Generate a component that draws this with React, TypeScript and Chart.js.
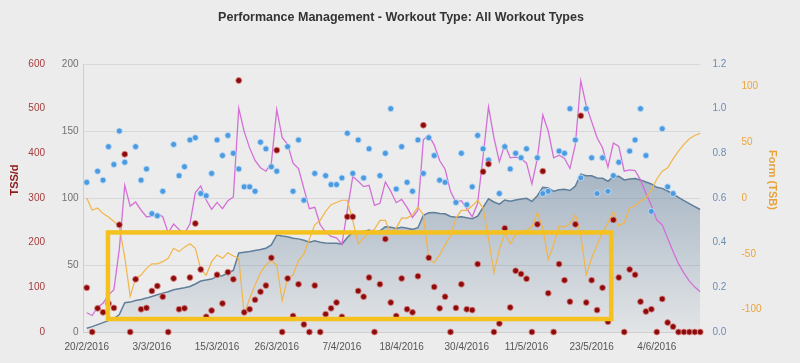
import { useEffect, useRef } from "react";
import { Chart, registerables } from "chart.js";

Chart.register(...registerables);

const FONT = "'Liberation Sans', Arial, sans-serif";

const chartTitle = "Performance Management - Workout Type: All Workout Types";

// Daily TSS (left outer axis, 0-600)
const tss = [
  99, 0, 53, 44, 64, 54, 240, 398, 0, 118,
  51, 54, 92, 103, 79, 0, 120, 51, 53, 122,
  243, 140, 34, 48, 128, 64, 134, 118, 563, 44,
  51, 72, 90, 104, 166, 407, 0, 120, 36, 107,
  17, 0, 104, 0, 40, 53, 66, 34, 258, 258,
  92, 79, 122, 0, 107, 208, 66, 36, 120, 51,
  44, 125, 463, 166, 101, 53, 79, 0, 54, 107,
  51, 49, 152, 359, 376, 0, 19, 232, 55, 137,
  130, 119, 0, 241, 360, 87, 0, 152, 116, 68,
  241, 484, 66, 116, 49, 99, 23, 251, 122, 0,
  140, 128, 68, 46, 51, 0, 74, 21, 12, 0,
  0, 0, 0, 0,
];

// Intensity factor (right inner axis, 0-1.2)
const intensity = [
  0.67, null, 0.72, 0.68, 0.83, 0.75, 0.9, 0.76, null, 0.83,
  0.68, 0.73, 0.53, 0.52, 0.63, null, 0.84, 0.7, 0.74, 0.86,
  0.87, 0.62, 0.61, 0.71, 0.86, 0.79, 0.88, 0.8, 0.73, 0.65,
  0.65, 0.63, 0.85, 0.82, 0.74, 0.72, null, 0.83, 0.63, 0.86,
  0.59, null, 0.71, null, 0.7, 0.66, 0.66, 0.69, 0.89, 0.71,
  0.86, 0.69, 0.82, null, 0.7, 0.8, 1.0, 0.64, 0.83, 0.67,
  0.63, 0.86, 0.71, 0.87, 0.79, 0.68, 0.67, null, 0.58, 0.8,
  0.57, 0.65, 0.88, 0.82, 0.77, null, 0.62, 0.83, 0.73, 0.8,
  0.78, 0.82, null, 0.78, 0.62, 0.63, null, 0.81, 0.8, 1.0,
  0.86, 0.69, 1.0, 0.78, 0.62, 0.78, 0.63, 0.7, 0.76, null,
  0.81, 0.86, 1.0, 0.79, 0.54, null, 0.91, 0.65, 0.62, null,
  null, null, null, null,
];

// Acute training load (0-200 axis)
const atl = [
  14.4, 12.3, 18.5, 21.5, 27.5, 31.5, 62, 109.5, 94, 97,
  91, 86, 86.3, 88.5, 86, 74, 80.5, 76.5, 73.5, 80.5,
  104, 109, 98.5, 91.5, 96.7, 92, 98, 100.8, 167, 149.5,
  137.4, 128, 122.6, 120, 126, 166, 145, 140, 126, 122,
  107, 92, 93, 80, 74.5, 71.3, 70.3, 65.5, 91, 116,
  112.5, 108.5, 109.5, 94.5, 96, 112, 105, 96.5, 99, 93,
  85.5, 91, 143.5, 147, 139.5, 128, 121.5, 105, 97, 98,
  92, 86, 96, 131, 168, 145, 127, 140, 130, 130.5,
  129.5, 126, 110.5, 129.5, 162, 150, 130, 132, 129.5, 122,
  140, 187.5, 169, 157, 145, 137.5, 123, 141, 138.5, 120,
  121, 120.5, 113.5, 103.5, 94.5, 83.5, 80, 70, 60, 51,
  44, 38, 33.5, 30,
];

// Chronic training load (0-200 axis, filled area)
const ctl = [
  2.8, 4, 5.5, 7, 8.5, 10, 13, 21.9, 22.3, 23.5,
  24.3, 25.3, 26.5, 27.8, 29, 30, 31.5, 32.3, 33, 34,
  35.8, 38, 38.8, 39.5, 41.5, 42, 44, 46, 59, 59.5,
  60, 60.8, 61.5, 62.5, 65, 72.4, 71.6, 71.1, 70, 69.5,
  68.5, 67, 68, 67, 66.5, 66.2, 66.2, 65.6, 70.5, 74.5,
  74.8, 75, 76.1, 74.5, 75.5, 78.5, 78.2, 77.2, 78.1, 77.4,
  76.6, 77.8, 87, 89, 89.2, 88.4, 88.2, 86.2, 85.6, 86,
  85.2, 84.5, 86.5, 93, 99.4, 97, 95.4, 98.5, 97.6, 98.5,
  99.3, 99.8, 97.5, 101.7, 108, 107.5, 105, 106.2, 106.5, 105.6,
  108.9, 117.8, 116.6, 116.6, 115, 114.7, 112.5, 116, 116.2, 113.5,
  114.2, 114.6, 113.5, 111.9, 110.5, 108, 107.2, 105.2, 103, 100.5,
  98.1, 95.8, 93.6, 91.4,
];

// Form / training stress balance (right outer axis)
const tsb = [
  0, -11, -9, -14, -17, -21, -26, -53, -88, -72,
  -69, -63, -59, -59, -57, -54, -45, -48, -44, -41,
  -45, -64, -69, -57, -51, -54, -49, -52, -54, -104,
  -90, -78, -67, -60, -56, -60, -92, -72, -69, -56,
  -50, -37, -24, -20, -12, -6, -4, -2, -2, -20,
  -41, -36, -31, -28, -20, -20, -32, -27, -18, -18,
  -15, -8, -15, -55, -58, -51, -42, -34, -18, -11,
  -11, -7, -2, -9, -36, -67, -46, -31, -41, -33,
  -31, -29, -26, -13, -27, -55, -42, -25, -26, -23,
  -15, -33, -69, -54, -42, -31, -22, -12, -25, -22,
  -9, -7, -3, 0, 7, 17, 24, 27, 35, 42,
  48, 53, 56, 58,
];

// x-axis: day index from 20/2/2016 and the shown date labels
const xTickIndex = [0, 12, 24, 35, 47, 58, 70, 81, 93, 105];
const xTickLabels = [
  "20/2/2016", "3/3/2016", "15/3/2016", "26/3/2016", "7/4/2016",
  "18/4/2016", "30/4/2016", "11/5/2016", "23/5/2016", "4/6/2016",
];
const formTicks = [-100, -50, 0, 50, 100];

// highlight box annotation (x in day index, y on the 0-200 axis)
const highlight = { from: 3.9, to: 96.6, top: 74.3, bottom: 9.7 };

const pts = (arr: (number | null)[]) => arr.map((v, i) => ({ x: i, y: v }));

export default function App() {
  const ref = useRef<HTMLCanvasElement | null>(null);

  useEffect(() => {
    if (!ref.current) return;
    document.body.style.margin = "0";
    document.body.style.background = "#ececec";

    const bgPlugin = {
      id: "bg",
      beforeDraw(chart: any) {
        const c = chart.ctx;
        c.save();
        c.fillStyle = "#ececec";
        c.fillRect(0, 0, chart.width, chart.height);
        c.restore();
      },
    };

    const overlayPlugin = {
      id: "overlay",
      afterDatasetsDraw(chart: any) {
        const c = chart.ctx;
        const xs = chart.scales.x;
        const ys = chart.scales.yL;
        const x1 = xs.getPixelForValue(highlight.from);
        const x2 = xs.getPixelForValue(highlight.to);
        const y1 = ys.getPixelForValue(highlight.top);
        const y2 = ys.getPixelForValue(highlight.bottom);
        c.save();
        c.strokeStyle = "#f4c11e";
        c.lineWidth = 4.5;
        c.strokeRect(x1, y1, x2 - x1, y2 - y1);
        c.restore();
      },
      afterDraw(chart: any) {
        const c = chart.ctx;
        const area = chart.chartArea;
        const midY = (area.top + area.bottom) / 2 - 18;
        c.save();
        c.fillStyle = "#333333";
        c.font = `bold 12.5px ${FONT}`;
        c.textAlign = "center";
        c.textBaseline = "middle";
        c.fillText(chartTitle, 401, 18);

        const yT = chart.scales.yT;
        c.save();
        c.translate(yT.left + 15, midY);
        c.rotate(-Math.PI / 2);
        c.fillStyle = "#8b1a1a";
        c.font = `bold 11px ${FONT}`;
        c.fillText("TSS/d", 0, 0);
        c.restore();

        const yF = chart.scales.yF;
        c.save();
        c.translate(yF.right - 28, midY);
        c.rotate(Math.PI / 2);
        c.fillStyle = "#e8a23a";
        c.font = `bold 11px ${FONT}`;
        c.fillText("Form (TSB)", 0, 0);
        c.restore();
        c.restore();
      },
    };

    const tickFont = { size: 10, family: FONT };

    const chart = new Chart(ref.current, {
      type: "line",
      data: {
        datasets: [
          {
            label: "TSS/d",
            data: pts(tss),
            yAxisID: "yT",
            showLine: false,
            pointRadius: 3,
            pointBackgroundColor: "#8c0c0c",
            pointBorderColor: "rgba(225,140,140,0.8)",
            pointBorderWidth: 1,
            clip: false,
            order: 1,
          },
          {
            label: "IF",
            data: pts(intensity),
            yAxisID: "yI",
            showLine: false,
            pointRadius: 3,
            pointBackgroundColor: "#4c9be0",
            pointBorderColor: "rgba(195,222,248,0.85)",
            pointBorderWidth: 1,
            clip: false,
            order: 2,
          },
          {
            label: "TSB",
            data: pts(tsb),
            yAxisID: "yF",
            borderColor: "#f2b548",
            borderWidth: 1.2,
            pointRadius: 0,
            fill: false,
            order: 3,
          },
          {
            label: "ATL",
            data: pts(atl),
            yAxisID: "yL",
            borderColor: "#d36fd6",
            borderWidth: 1.3,
            pointRadius: 0,
            fill: false,
            order: 4,
          },
          {
            label: "CTL",
            data: pts(ctl),
            yAxisID: "yL",
            borderColor: "#5f7e9a",
            borderWidth: 1.5,
            pointRadius: 0,
            fill: "origin",
            backgroundColor: (ctx: any) => {
              const { chart } = ctx;
              const area = chart.chartArea;
              if (!area) return "rgba(95,125,155,0.3)";
              const g = chart.ctx.createLinearGradient(0, area.top, 0, area.bottom);
              g.addColorStop(0, "rgba(95,125,155,0.78)");
              g.addColorStop(1, "rgba(95,125,155,0.07)");
              return g;
            },
            order: 5,
          },
        ] as any,
      },
      options: {
        animation: false,
        responsive: false,
        layout: { padding: { top: 64, bottom: 6, left: 0, right: 0 } },
        plugins: {
          legend: { display: false },
          tooltip: { enabled: false },
          title: { display: false },
        },
        scales: {
          x: {
            type: "linear",
            min: -0.6,
            max: 113.05,
            grid: { display: false, drawTicks: false },
            border: { display: true, color: "#cfcfcf" },
            afterBuildTicks: (s: any) => {
              s.ticks = xTickIndex.map((v) => ({ value: v }));
            },
            afterFit: (s: any) => {
              s.height = 25;
            },
            ticks: {
              autoSkip: false,
              maxRotation: 0,
              padding: 9,
              color: "#555",
              font: tickFont,
              callback: (v: any) => xTickLabels[xTickIndex.indexOf(Number(v))] ?? "",
            },
          },
          yT: {
            position: "left",
            weight: 1,
            min: 0,
            max: 600,
            ticks: { stepSize: 100, color: "#a53c3c", padding: 7, font: tickFont },
            grid: { display: false, drawTicks: false },
            border: { display: false },
            afterFit: (s: any) => {
              s.width = 52;
            },
          },
          yL: {
            position: "left",
            weight: 0,
            min: 0,
            max: 200,
            ticks: { stepSize: 50, color: "#707070", padding: 5, font: tickFont },
            grid: { color: "#d8d8d8", drawTicks: false },
            border: { display: true, color: "#cfcfcf" },
            afterFit: (s: any) => {
              s.width = 31.5;
            },
          },
          yI: {
            position: "right",
            weight: 0,
            min: 0,
            max: 1.2,
            ticks: {
              stepSize: 0.2,
              color: "#6c8db5",
              padding: 12,
              font: tickFont,
              callback: (v: any) => Number(v).toFixed(1),
            },
            grid: { display: false, drawTicks: false },
            border: { display: false },
            afterFit: (s: any) => {
              s.width = 35;
            },
          },
          yF: {
            position: "right",
            weight: 1,
            min: -120,
            max: 120,
            afterBuildTicks: (s: any) => {
              s.ticks = formTicks.map((v) => ({ value: v }));
            },
            ticks: { color: "#eba53c", padding: 6, font: tickFont },
            grid: { display: false, drawTicks: false },
            border: { display: false },
            afterFit: (s: any) => {
              s.width = 64.5;
            },
          },
        },
      } as any,
      plugins: [bgPlugin, overlayPlugin],
    });

    return () => chart.destroy();
  }, []);

  return (
    <div style={{ position: "fixed", left: 0, top: 0, width: 800, height: 363 }}>
      <canvas ref={ref} width={800} height={363} style={{ display: "block" }} />
    </div>
  );
}
